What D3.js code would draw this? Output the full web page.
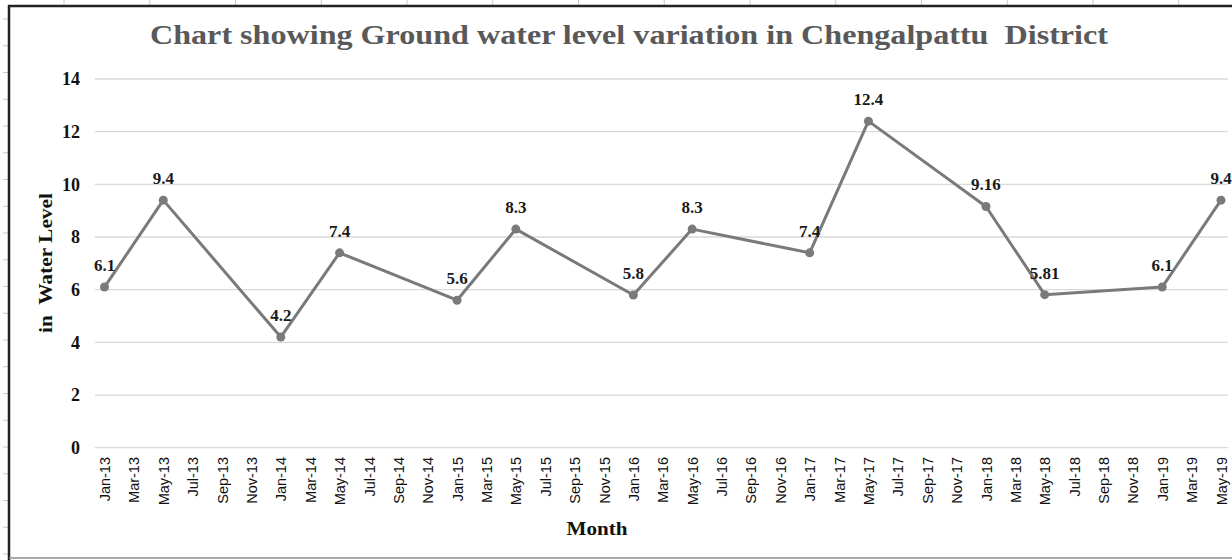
<!DOCTYPE html>
<html>
<head>
<meta charset="utf-8">
<script src="https://cdn.jsdelivr.net/npm/d3@7"></script>
<style>
  body { margin: 0; background: #fff; }
  svg { display: block; }
</style>
</head>
<body>
<svg width="1232" height="560"></svg>
<script>
// category axis: every second month, Jan-13 .. May-19
const months = ['Jan-13','Mar-13','May-13','Jul-13','Sep-13','Nov-13',
  'Jan-14','Mar-14','May-14','Jul-14','Sep-14','Nov-14',
  'Jan-15','Mar-15','May-15','Jul-15','Sep-15','Nov-15',
  'Jan-16','Mar-16','May-16','Jul-16','Sep-16','Nov-16',
  'Jan-17','Mar-17','May-17','Jul-17','Sep-17','Nov-17',
  'Jan-18','Mar-18','May-18','Jul-18','Sep-18','Nov-18',
  'Jan-19','Mar-19','May-19']

// measured months and water level
const obsMonths = ['Jan-13','May-13','Jan-14','May-14','Jan-15','May-15','Jan-16',
  'May-16','Jan-17','May-17','Jan-18','May-18','Jan-19','May-19']
const levels = [6.1, 9.4, 4.2, 7.4, 5.6, 8.3, 5.8, 8.3, 7.4, 12.4, 9.16, 5.81, 6.1, 9.4]
const levelLabels = ['6.1','9.4','4.2','7.4','5.6','8.3','5.8','8.3','7.4','12.4','9.16','5.81','6.1','9.4']

const yTicks = [0, 2, 4, 6, 8, 10, 12, 14]

const data = obsMonths.map((m, i) => ({month: m, value: levels[i], label: levelLabels[i]}))

const svg = d3.select('svg')
const serif = "'Liberation Serif', 'Times New Roman', serif"
const sans = "'Liberation Sans', Arial, sans-serif"

// sheet grid marks outside the chart frame
const deco = svg.append('g').attr('stroke', '#c8c8c8').attr('stroke-width', 1)
d3.range(64, 1232, 85.75).forEach(x => {
    deco.append('line').attr('x1', x).attr('x2', x).attr('y1', 0).attr('y2', 5)
})
d3.range(19, 560, 26.75).forEach(y => {
    deco.append('line').attr('x1', 3).attr('x2', 8).attr('y1', y).attr('y2', y)
})

// chart frame
svg.append('line').attr('x1', 9).attr('x2', 9).attr('y1', 5).attr('y2', 560)
    .attr('stroke', '#222').attr('stroke-width', 2.5)
svg.append('line').attr('x1', 8).attr('x2', 1232).attr('y1', 6).attr('y2', 6)
    .attr('stroke', '#222').attr('stroke-width', 2.5)
svg.append('line').attr('x1', 9).attr('x2', 1232).attr('y1', 558).attr('y2', 558)
    .attr('stroke', '#8c8c8c').attr('stroke-width', 1.5)

//scales
const xScale = d3.scalePoint().domain(months).range([104.5, 1221])
const yScale = d3.scaleLinear().domain([0, 14]).range([447.7, 79])

//gridlines
svg.append('g').selectAll('line')
    .data(yTicks)
    .enter().append('line')
    .attr('x1', 95).attr('x2', 1228)
    .attr('y1', d => yScale(d)).attr('y2', d => yScale(d))
    .attr('stroke', '#d9d9d9').attr('stroke-width', 1.3)

//y axis labels
const yAxis = d3.axisLeft(yScale).tickValues(yTicks).tickSize(0).tickPadding(0)
svg.append('g')
    .attr('transform', 'translate(80,0)')
    .call(yAxis)
    .call(g => g.select('.domain').remove())
    .call(g => g.selectAll('text')
        .attr('font-family', serif).attr('font-size', 18).attr('font-weight', 'bold')
        .attr('fill', '#111'))

//x axis labels
const xAxis = d3.axisBottom(xScale).tickSize(0)
svg.append('g')
    .attr('transform', 'translate(0,457)')
    .call(xAxis)
    .call(g => g.select('.domain').remove())
    .call(g => g.selectAll('text')
        .attr('font-family', sans).attr('font-size', 14.5).attr('fill', '#111')
        .attr('transform', 'rotate(-90)')
        .attr('text-anchor', 'end')
        .attr('x', 0).attr('y', 0).attr('dy', '.35em'))

//line
const line = d3.line().x(d => xScale(d.month)).y(d => yScale(d.value))
svg.append('path')
    .datum(data)
    .attr('d', line)
    .attr('fill', 'none')
    .attr('stroke', '#7a7a7a')
    .attr('stroke-width', 3)
    .attr('stroke-linejoin', 'round')

svg.append('g').selectAll('circle')
    .data(data)
    .enter().append('circle')
    .attr('cx', d => xScale(d.month))
    .attr('cy', d => yScale(d.value))
    .attr('r', 4.5)
    .attr('fill', '#7a7a7a')

//data labels
svg.append('g').selectAll('text')
    .data(data)
    .enter().append('text')
    .text(d => d.label)
    .attr('x', d => xScale(d.month))
    .attr('y', d => yScale(d.value) - 16)
    .attr('text-anchor', 'middle')
    .attr('font-family', serif).attr('font-size', 17).attr('font-weight', 'bold')
    .attr('fill', '#1a1a1a')

//titles
svg.append('text')
    .text('Chart showing Ground water level variation in Chengalpattu  District')
    .attr('x', 150).attr('y', 44)
    .attr('textLength', 958).attr('lengthAdjust', 'spacingAndGlyphs')
    .style('white-space', 'pre')
    .attr('font-family', serif).attr('font-size', 28).attr('font-weight', 'bold')
    .attr('fill', '#595959')

svg.append('text')
    .text('in  Water Level')
    .attr('transform', 'translate(52,263) rotate(-90)')
    .attr('text-anchor', 'middle')
    .attr('textLength', 140).attr('lengthAdjust', 'spacingAndGlyphs')
    .style('white-space', 'pre')
    .attr('font-family', serif).attr('font-size', 19).attr('font-weight', 'bold')
    .attr('fill', '#111')

svg.append('text')
    .text('Month')
    .attr('x', 597).attr('y', 535)
    .attr('text-anchor', 'middle')
    .attr('textLength', 61).attr('lengthAdjust', 'spacingAndGlyphs')
    .attr('font-family', serif).attr('font-size', 19).attr('font-weight', 'bold')
    .attr('fill', '#111')
</script>
</body>
</html>
